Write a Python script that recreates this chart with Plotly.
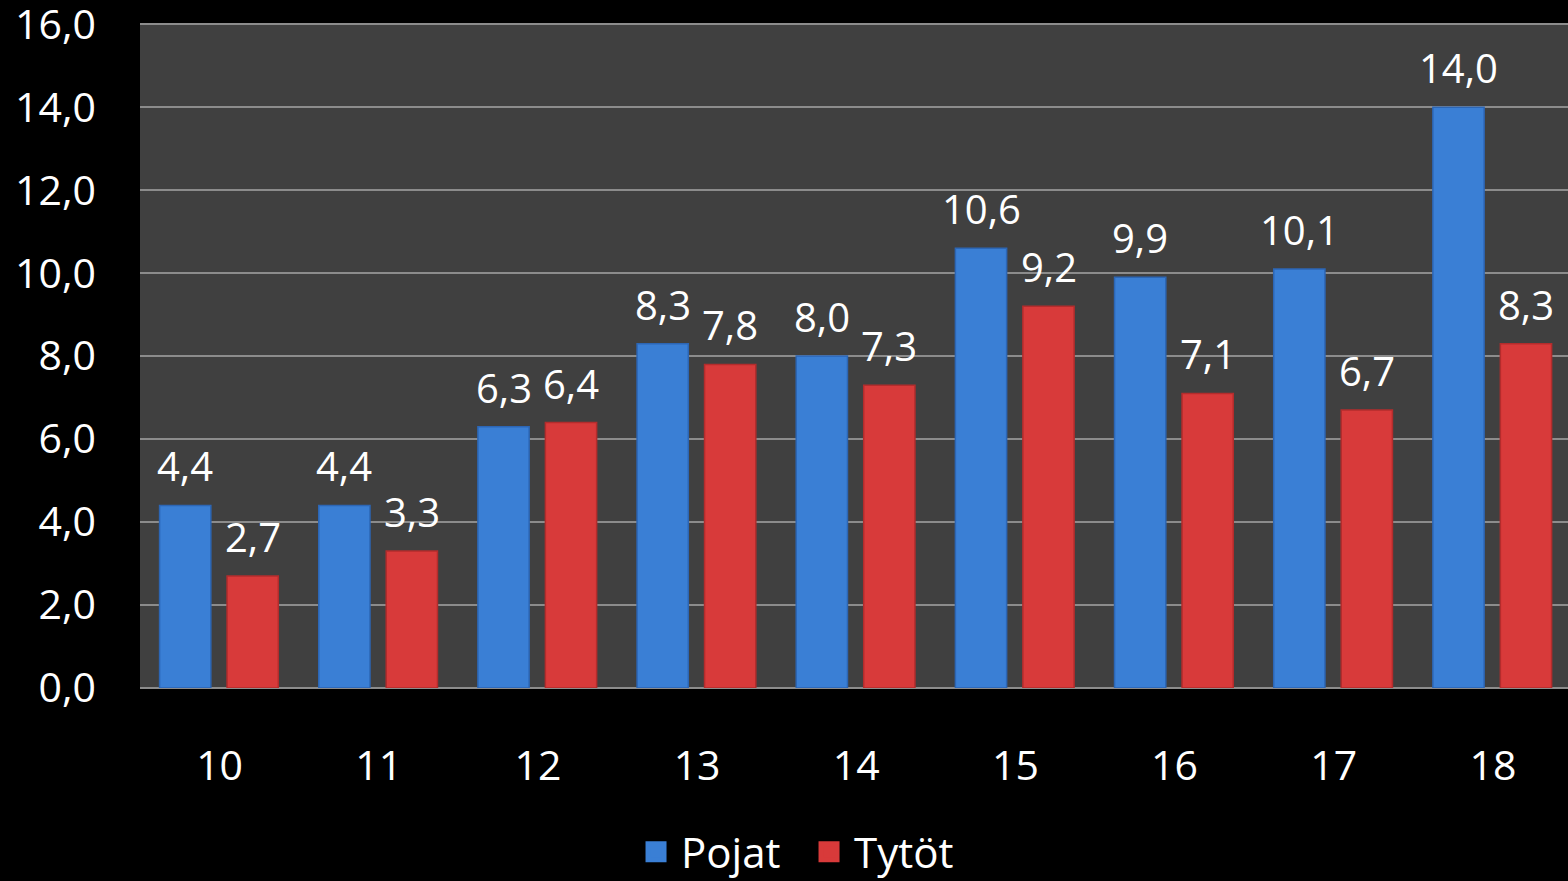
import plotly.graph_objects as go

ages = ["10", "11", "12", "13", "14", "15", "16", "17", "18"]
pojat = [4.4, 4.4, 6.3, 8.3, 8.0, 10.6, 9.9, 10.1, 14.0]
tytot = [2.7, 3.3, 6.4, 7.8, 7.3, 9.2, 7.1, 6.7, 8.3]
y_ticks = [0, 2, 4, 6, 8, 10, 12, 14, 16]

FONT = "Open Sans"
BLUE = "#3a7fd5"
RED = "#d83a3a"
BAR_W = 0.322
OFFSETS = {"Pojat": -0.377, "Tytöt": 0.047}


def fmt(v):
    return f"{v:.1f}".replace(".", ",")


fig = go.Figure()
for name, vals, col, edge in [("Pojat", pojat, BLUE, "#2c66b5"), ("Tytöt", tytot, RED, "#b32c2c")]:
    fig.add_trace(go.Bar(
        name=name, x=ages, y=vals, width=BAR_W, offset=OFFSETS[name],
        marker=dict(color=col, line=dict(color=edge, width=1.5)),
        showlegend=False, hoverinfo="y",
    ))
    # legend entry with larger square symbol
    fig.add_trace(go.Scatter(
        name=name, x=[None], y=[None], mode="markers",
        marker=dict(symbol="square", size=16, color=col, line=dict(color=col, width=5)),
        showlegend=True,
    ))
    for i, v in enumerate(vals):
        fig.add_annotation(
            x=i + OFFSETS[name] + BAR_W / 2, y=v, xref="x", yref="y",
            text=fmt(v), showarrow=False, yanchor="bottom", yshift=10,
            font=dict(family=FONT, size=40, color="white"),
        )

fig.update_layout(
    width=1568, height=881,
    paper_bgcolor="black", plot_bgcolor="#404040",
    margin=dict(l=140, r=0, t=23, b=193, autoexpand=False),
    barmode="overlay",
    separators=", ",
    font=dict(family=FONT, color="white", size=40),
    legend=dict(orientation="h", x=0.465, xanchor="center",
                yref="container", y=0.033, yanchor="middle",
                font=dict(size=42, color="white", family=FONT), bgcolor="rgba(0,0,0,0)",
                itemwidth=40, tracegroupgap=0, entrywidth=118, itemsizing="trace"),
    showlegend=True,
)
fig.update_xaxes(type="category", range=[-0.5, 8.472], showgrid=False, ticks="",
                 tickfont=dict(size=41, color="white"), ticklabelstandoff=50, showline=False)
fig.update_yaxes(range=[0, 16.03], tickvals=y_ticks, tickformat=".1f",
                 showgrid=True, gridcolor="#8c8c8c", gridwidth=1.5,
                 zeroline=True, zerolinecolor="#8c8c8c", zerolinewidth=2,
                 ticks="", ticklabelstandoff=43, ticklabeloverflow="allow",
                 tickfont=dict(size=41, color="white"))

fig.write_html("out.html", config={"displayModeBar": False},
               post_script="document.body.style.margin='0';document.body.style.background='black';")
